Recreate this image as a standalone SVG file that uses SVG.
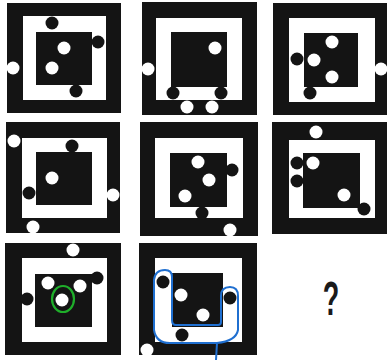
<svg xmlns="http://www.w3.org/2000/svg" width="388" height="360" viewBox="0 0 388 360">
<style>
.b{fill:#141414}
.w{fill:#ffffff}
.q{font-family:"Liberation Sans",Arial,sans-serif;font-size:49px;font-weight:bold;fill:#1a1a1a}
</style>
<rect width="388" height="360" fill="#ffffff"/>
<g id="cell1">
<rect class="b" x="7" y="3" width="114" height="110"/>
<rect class="w" x="23" y="16" width="83" height="84"/>
<rect class="b" x="36" y="32" width="56" height="53"/>
<circle class="b" cx="52" cy="23" r="6.5"/>
<circle class="b" cx="98" cy="42" r="6.5"/>
<circle class="w" cx="13" cy="68" r="6.5"/>
<circle class="w" cx="64" cy="48" r="6.5"/>
<circle class="w" cx="52" cy="68" r="6.5"/>
<circle class="b" cx="76" cy="91" r="6.5"/>
</g>
<g id="cell2">
<rect class="b" x="142" y="2" width="115" height="113"/>
<rect class="w" x="156" y="18" width="86" height="82"/>
<rect class="b" x="171" y="32" width="56" height="55"/>
<circle class="w" cx="215" cy="48" r="6.5"/>
<circle class="w" cx="148" cy="69" r="6.5"/>
<circle class="b" cx="173" cy="93" r="6.5"/>
<circle class="b" cx="221" cy="93" r="6.5"/>
<circle class="w" cx="187" cy="107" r="6.5"/>
<circle class="w" cx="212" cy="107" r="6.5"/>
</g>
<g id="cell3">
<rect class="b" x="273" y="3" width="114" height="112"/>
<rect class="w" x="289" y="18" width="86" height="84"/>
<rect class="b" x="304" y="33" width="54" height="54"/>
<circle class="w" cx="332" cy="42" r="6.5"/>
<circle class="w" cx="314" cy="60" r="6.5"/>
<circle class="w" cx="332" cy="77" r="6.5"/>
<circle class="b" cx="297" cy="59" r="6.5"/>
<circle class="b" cx="310" cy="93" r="6.5"/>
<circle class="w" cx="381" cy="69" r="6.5"/>
</g>
<g id="cell4">
<rect class="b" x="6" y="122" width="114" height="111"/>
<rect class="w" x="22" y="138" width="85" height="80"/>
<rect class="b" x="36" y="152" width="56" height="53"/>
<circle class="w" cx="14" cy="141" r="6.5"/>
<circle class="b" cx="72" cy="146" r="6.5"/>
<circle class="w" cx="52" cy="178" r="6.5"/>
<circle class="b" cx="29" cy="193" r="6.5"/>
<circle class="w" cx="113" cy="195" r="6.5"/>
<circle class="w" cx="33" cy="227" r="6.5"/>
</g>
<g id="cell5">
<rect class="b" x="140" y="122" width="118" height="114"/>
<rect class="w" x="155" y="138" width="88" height="80"/>
<rect class="b" x="170" y="153" width="57" height="54"/>
<circle class="w" cx="198" cy="162" r="6.5"/>
<circle class="w" cx="209" cy="180" r="6.5"/>
<circle class="w" cx="185" cy="196" r="6.5"/>
<circle class="b" cx="232" cy="170" r="6.5"/>
<circle class="b" cx="202" cy="213" r="6.5"/>
<circle class="w" cx="230" cy="230" r="6.5"/>
</g>
<g id="cell6">
<rect class="b" x="272" y="122" width="115" height="112"/>
<rect class="w" x="289" y="140" width="86" height="78"/>
<rect class="b" x="303" y="153" width="57" height="55"/>
<circle class="w" cx="316" cy="132" r="6.5"/>
<circle class="w" cx="313" cy="163" r="6.5"/>
<circle class="b" cx="297" cy="163" r="6.5"/>
<circle class="b" cx="297" cy="181" r="6.5"/>
<circle class="w" cx="344" cy="195" r="6.5"/>
<circle class="b" cx="364" cy="209" r="6.5"/>
</g>
<g id="cell7">
<rect class="b" x="5" y="243" width="116" height="112"/>
<rect class="w" x="22" y="258" width="85" height="84"/>
<rect class="b" x="35" y="274" width="57" height="53"/>
<circle class="w" cx="73" cy="250" r="6.5"/>
<circle class="w" cx="48" cy="283" r="6.5"/>
<circle class="w" cx="80" cy="286" r="6.5"/>
<circle class="w" cx="62" cy="300" r="6.5"/>
<circle class="b" cx="27" cy="299" r="6.5"/>
<circle class="b" cx="97" cy="278" r="6.5"/>
<ellipse cx="63" cy="299" rx="11" ry="13" fill="none" stroke="#1fae2a" stroke-width="2.2"/>
</g>
<g id="cell8">
<rect class="b" x="139" y="243" width="118" height="112"/>
<rect class="w" x="155" y="258" width="87" height="84"/>
<rect class="b" x="172" y="273" width="51" height="54"/>
<circle class="b" cx="163" cy="282" r="6.5"/>
<circle class="w" cx="181" cy="295" r="6.5"/>
<circle class="w" cx="203" cy="315" r="6.5"/>
<circle class="b" cx="230" cy="298" r="6.5"/>
<circle class="b" cx="182" cy="335" r="6.5"/>
<circle class="w" cx="147" cy="350" r="6.5"/>
<path d="M216 360 L217 343 Q236 341 238 330 L238 296 Q238 287 230 287 Q221 287 221 296 L221 322 Q221 325 218 325 L176 325 Q172 325 172 320 L172 277 Q172 270 165 270 Q155 270 154 280 L154 330 Q156 343 170 343 L217 343" fill="none" stroke="#1f6fd0" stroke-width="2"/>
</g>
<g id="cell9">
<text class="q" x="0" y="0" text-anchor="middle" transform="translate(331 315) scale(0.55 1)">?</text>
</g>
</svg>
